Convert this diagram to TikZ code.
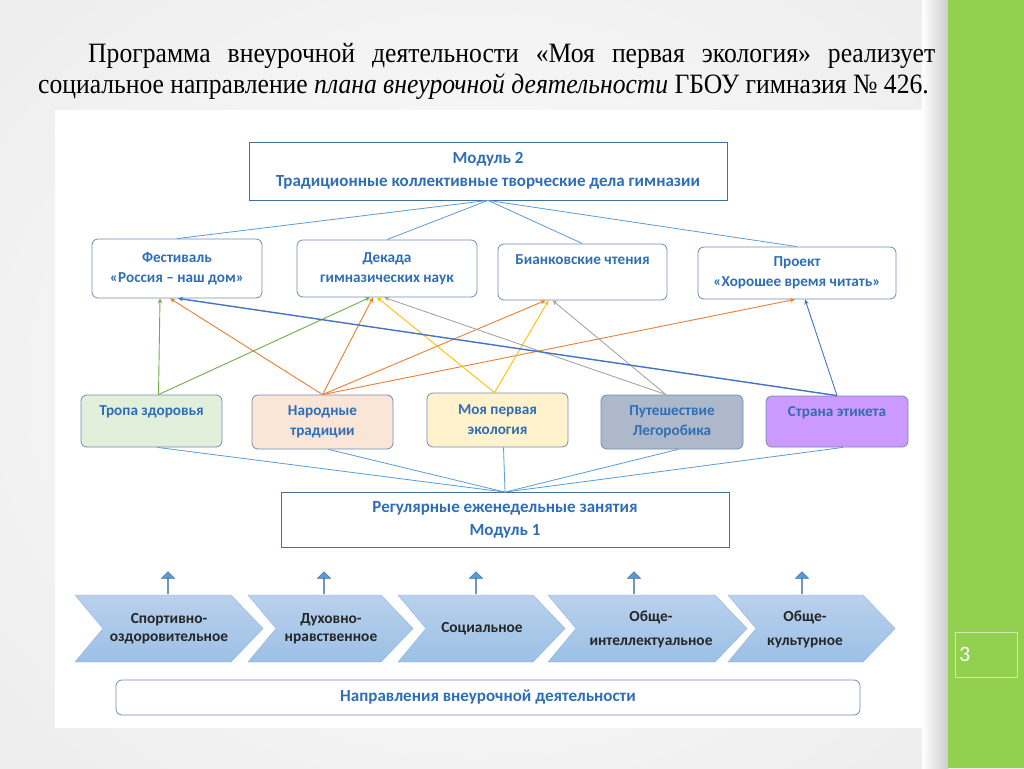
\documentclass[tikz,border=0pt]{standalone}
\usepackage{fontspec}
\setmainfont{Liberation Serif}
\newfontfamily\headfont[FakeStretch=0.915]{Liberation Serif}
\newfontfamily\calibri{Carlito}
\usetikzlibrary{shapes.arrows,arrows.meta,positioning}

\definecolor{txtblue}{HTML}{2F6EB5}
\definecolor{lnblue}{HTML}{5B9BD5}
\definecolor{modedge}{HTML}{41719C}
\definecolor{boxedge}{HTML}{6F8DB4}
\definecolor{fgreen}{HTML}{E2EFDA}
\definecolor{fpeach}{HTML}{FBE5D6}
\definecolor{fyellow}{HTML}{FFF2CC}
\definecolor{fgray}{HTML}{ADB9CA}
\definecolor{fviolet}{HTML}{CC99FF}
\definecolor{agreen}{HTML}{70AD47}
\definecolor{aorange}{HTML}{ED7D31}
\definecolor{ayellow}{HTML}{FFC000}
\definecolor{agray}{HTML}{A5A5A5}
\definecolor{ablue}{HTML}{4472C4}
\definecolor{chevtop}{HTML}{B9D1EC}
\definecolor{chevbot}{HTML}{9CC0E6}
\definecolor{chevedge}{HTML}{8EB4E3}
\definecolor{slidegreen}{HTML}{92D050}

\tikzset{
	modbox/.style={draw=modedge,thick,fill=white,text=txtblue,align=center,inner sep=0pt,
		font=\calibri\bfseries\fontsize{17}{22.5}\selectfont},
	actbox/.style={draw=boxedge,thick,rounded corners=6pt,text=txtblue,align=center,inner sep=0pt,
		font=\calibri\bfseries\fontsize{15.2}{20}\selectfont},
	link/.style={draw=lnblue,line width=0.8pt},
	arr/.style={-{Stealth[length=5pt,width=4.5pt]},line width=0.9pt},
	chevron/.style={draw=chevedge,top color=chevtop,bottom color=chevbot},
	chevtext/.style={align=center,text=black!85,font=\calibri\bfseries\fontsize{15.4}{18}\selectfont},
	uparrow/.style={single arrow,shape border rotate=90,fill=lnblue,draw=modedge,line width=0.5pt,
		minimum height=22pt,minimum width=13pt,single arrow head extend=3.5pt,inner sep=0pt}
}

\begin{document}
\begin{tikzpicture}[x=1pt,y=-1pt]
	\useasboundingbox (0,0) rectangle (1024,768);
	% slide
	\shade[inner color=white,outer color=black!9] (-350,-300) rectangle (1300,1070);
	\shade[left color=white,right color=black!20] (922,0) rectangle (948,768);
	\fill[slidegreen] (948,0) rectangle (1024,768);
	\node[draw=white!55!slidegreen,minimum width=62pt,minimum height=45pt,text width=54pt,align=left,
		inner sep=0pt,text=white,font=\calibri\fontsize{22}{22}\selectfont] (pgnum) at (986,654.5) {3};
	% heading
	\node[anchor=base west,text width=897pt,align=justify,inner sep=0pt,
		font=\headfont\fontsize{28}{31}\selectfont] (heading) at (38,63)
		{\hspace*{50pt}Программа внеурочной деятельности «Моя первая экология» реализует
		социальное направление \textit{плана внеурочной деятельности} ГБОУ гимназия №~426.};
	% picture
	\fill[white] (55,110) rectangle (922,728);

	\node[modbox,minimum width=478pt,minimum height=58pt] (mod2) at (488,171)
		{Модуль 2\\Традиционные коллективные творческие дела гимназии};

	\node[actbox,minimum width=170pt,minimum height=59pt] (fest) at (177,268.5) {Фестиваль\\«Россия – наш дом»};
	\node[actbox,minimum width=180pt,minimum height=57pt] (dekada) at (387,268.5) {Декада\\гимназических наук};
	\node[actbox,minimum width=169pt,minimum height=56pt] (bianki) at (582.5,272) {Бианковские чтения\\[4pt]\mbox{}};
	\node[actbox,minimum width=198pt,minimum height=52pt] (proekt) at (797,273) {Проект\\«Хорошее время читать»};

	\foreach \n in {fest,dekada,bianki,proekt}
		\draw[link] (mod2.south) -- (\n.north);

	\node[actbox,fill=fgreen,minimum width=141pt,minimum height=52pt] (tropa) at (151.5,421) {Тропа здоровья\\\mbox{}};
	\node[actbox,fill=fpeach,minimum width=141pt,minimum height=54pt] (narod) at (322.5,422) {Народные\\традиции};
	\node[actbox,fill=fyellow,minimum width=141pt,minimum height=54pt] (moya) at (497.5,420) {Моя первая\\экология};
	\node[actbox,fill=fgray,minimum width=142pt,minimum height=54pt] (puti) at (672,422) {Путешествие\\Легоробика};
	\node[actbox,fill=fviolet,minimum width=142pt,minimum height=51pt] (strana) at (837,421.5) {Страна этикета\\\mbox{}};

	% links of the modules
	\draw[arr,agreen] ([xshift=7pt]tropa.north) -- ([xshift=-17pt]fest.south);
	\draw[arr,agreen] ([xshift=7pt]tropa.north) -- ([xshift=-17pt]dekada.south);
	\draw[arr,aorange] (narod.north) -- ([xshift=-7pt]fest.south);
	\draw[arr,aorange] (narod.north) -- ([xshift=-14pt]dekada.south);
	\draw[arr,aorange] (narod.north) -- ([xshift=-37pt]bianki.south);
	\draw[arr,aorange] (narod.north) -- ([xshift=-2pt]proekt.south);
	\draw[arr,ayellow] ([xshift=-3pt]moya.north) -- ([xshift=-10pt]dekada.south);
	\draw[arr,ayellow] ([xshift=-3pt]moya.north) -- ([xshift=-34pt]bianki.south);
	\draw[arr,agray] ([xshift=-6pt]puti.north) -- ([xshift=-3pt]dekada.south);
	\draw[arr,agray] ([xshift=-6pt]puti.north) -- ([xshift=-30pt]bianki.south);
	\draw[arr,ablue,line width=1.4pt] (strana.north) -- ([xshift=1pt]fest.south);
	\draw[arr,ablue] (strana.north) -- ([xshift=8pt]proekt.south);

	\node[modbox,minimum width=448pt,minimum height=55pt] (regular) at (505,520)
		{Регулярные еженедельные занятия\\Модуль 1};

	\foreach \n in {tropa,narod,moya,puti,strana}
		\draw[link] ([xshift=6pt]\n.south) -- (regular.north);

	% directions
	\foreach \l/\r/\t/\txt [count=\i] in {75/263/169/{Спортивно-\\оздоровительное},
			248/413/331/{Духовно-\\нравственное},398/565/482/{Социальное},
			548/747/651/{Обще-\\[6pt]интеллектуальное},728/895/805/{Обще-\\[6pt]культурное}}{
		\draw[chevron] (\l,595) -- (\r-32,595) -- (\r,628.5) -- (\r-32,662) -- (\l,662) -- (\l+28,628.5) -- cycle;
		\node[chevtext] (dir\i) at (\t,629) {\txt};
	}
	\foreach \x [count=\i] in {168,324,476,634,802}
		\node[uparrow] (up\i) at (\x,583) {};

	\node[actbox,fill=white,minimum width=744pt,minimum height=35pt,font=\calibri\bfseries\fontsize{17}{20}\selectfont]
		(naprav) at (488,697.5) {Направления внеурочной деятельности};
\end{tikzpicture}
\end{document}
